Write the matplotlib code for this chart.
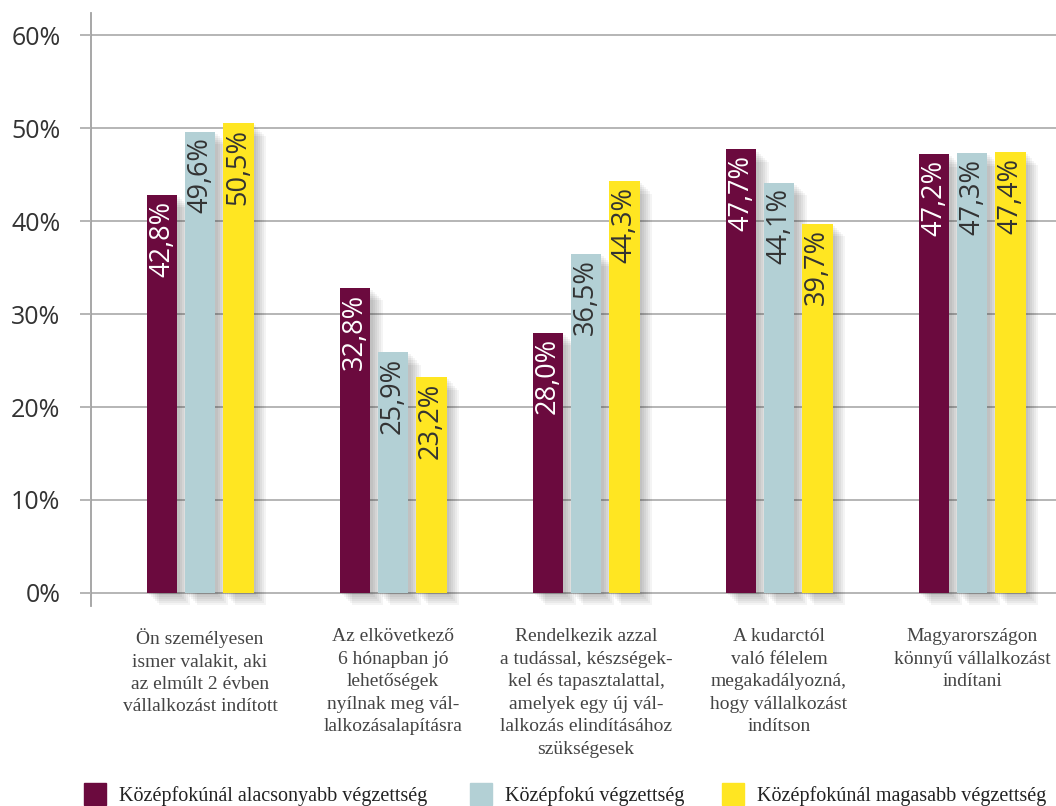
import matplotlib
matplotlib.use("Agg")
import matplotlib.pyplot as plt
import matplotlib.patheffects as pe
from matplotlib.patches import Rectangle
import numpy as np

categories = [
    "Ön személyesen\nismer valakit, aki\naz elmúlt 2 évben\nvállalkozást indított",
    "Az elkövetkező\n6 hónapban jó\nlehetőségek\nnyílnak meg vál-\nlalkozásalapításra",
    "Rendelkezik azzal\na tudással, készségek-\nkel és tapasztalattal,\namelyek egy új vál-\nlalkozás elindításához\nszükségesek",
    "A kudarctól\nvaló félelem\nmegakadályozná,\nhogy vállalkozást\nindítson",
    "Magyarországon\nkönnyű vállalkozást\nindítani",
]
series_names = [
    "Középfokúnál alacsonyabb végzettség",
    "Középfokú végzettség",
    "Középfokúnál magasabb végzettség",
]
low_edu = [42.8, 32.8, 28.0, 47.7, 47.2]
mid_edu = [49.6, 25.9, 36.5, 44.1, 47.3]
high_edu = [50.5, 23.2, 44.3, 39.7, 47.4]
y_ticks = [0, 10, 20, 30, 40, 50, 60]

colors = ["#6b0a3e", "#b3d0d5", "#ffe622"]
label_colors = ["white", "#333333", "#333333"]
sans = ["Open Sans", "DejaVu Sans"]
serif = ["Liberation Serif", "DejaVu Serif"]

fig = plt.figure(figsize=(10.56, 8.06), dpi=100)
ax = fig.add_axes([91 / 1056, (806 - 606) / 806, 1 - 91 / 1056, (606 - 13) / 806])
ax.set_xlim(-0.565, 4.435)
ax.set_ylim(-1.4, 62.37)

for s in ax.spines.values():
    s.set_visible(False)

# gridlines with short outward ticks
for t in y_ticks:
    ax.axhline(t, color="#b0b0b0", lw=1.3, zorder=0)
ax.set_yticks(y_ticks)
ax.set_yticklabels([f"{t}%" for t in y_ticks], fontsize=18, color="#333333",
                   family=sans)
ax.tick_params(axis="y", length=8, width=1.3, color="#b0b0b0", pad=14)
ax.set_xticks([])
ax.plot([0, 0], [0, 1], transform=ax.transAxes, color="#a0a0a0", lw=1.3,
        clip_on=False, zorder=1)

x = np.arange(len(categories))
width = 0.16
step = 0.197
shadow = [pe.SimplePatchShadow(offset=(o, -o), shadow_rgbFace="#000000", alpha=0.045)
          for o in (1.5, 3, 4.5, 6, 7.5, 9)] + [pe.Normal()]

for i, vals in enumerate([low_edu, mid_edu, high_edu]):
    xs = x + (i - 1) * step
    bars = ax.bar(xs, vals, width=width, color=colors[i], zorder=3)
    for b in bars:
        b.set_path_effects(shadow)
    for xi, v in zip(xs, vals):
        ax.text(xi, v - 0.6, f"{v:.1f}%".replace(".", ","), rotation=90,
                ha="center", va="top", fontsize=19.5, color=label_colors[i],
                family=sans, zorder=4)

# category labels under the groups
for xi, cat in zip(x, categories):
    ax.annotate(cat, xy=(xi, 0), xycoords=("data", "axes fraction"),
                xytext=(0, -16), textcoords="offset points",
                ha="center", va="top", fontsize=14, color="#444444",
                family=serif, linespacing=1.42)

# legend row
legend_x = [84, 470, 722]
for lx, name, c in zip(legend_x, series_names, colors):
    fig.patches.append(Rectangle((lx / 1056, 1 / 806), 22 / 1056, 22 / 806,
                                 transform=fig.transFigure, color=c))
    fig.text((lx + 35) / 1056, 5 / 806, name, fontsize=14.5, color="#222222",
             family=serif, ha="left", va="baseline")

fig.savefig("out.png", dpi=100)
